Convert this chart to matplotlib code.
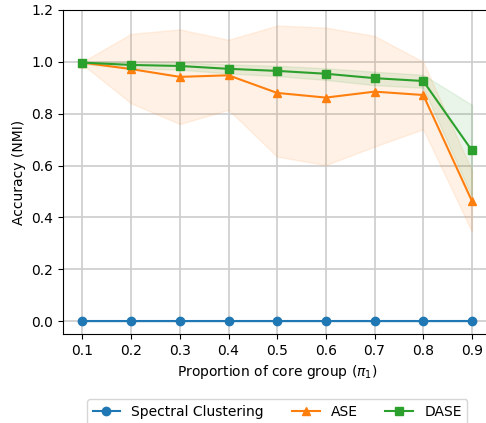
"""Plot clustering accuracy against the proportion of the core group."""

import matplotlib
matplotlib.use("Agg")
import matplotlib.pyplot as plt
import numpy as np

proportions = [0.1, 0.2, 0.3, 0.4, 0.5, 0.6, 0.7, 0.8, 0.9]

spectral_mean = [0.0, 0.0, 0.0, 0.0, 0.0, 0.0, 0.0, 0.0, 0.0]
spectral_lo = [-0.003, -0.003, -0.003, -0.003, -0.003, -0.003, -0.003, -0.003, -0.003]
spectral_hi = [0.003, 0.003, 0.003, 0.003, 0.003, 0.003, 0.003, 0.003, 0.004]

ase_mean = [0.997, 0.972, 0.942, 0.948, 0.880, 0.862, 0.885, 0.872, 0.463]
ase_lo = [0.990, 0.840, 0.760, 0.815, 0.634, 0.602, 0.673, 0.740, 0.345]
ase_hi = [1.000, 1.108, 1.125, 1.085, 1.140, 1.132, 1.100, 1.000, 0.580]

dase_mean = [0.997, 0.988, 0.984, 0.973, 0.965, 0.954, 0.937, 0.926, 0.658]
dase_lo = [0.992, 0.975, 0.970, 0.955, 0.945, 0.930, 0.910, 0.900, 0.480]
dase_hi = [1.000, 1.000, 0.998, 0.990, 0.985, 0.975, 0.962, 0.950, 0.834]


def main():
    fig = plt.figure(figsize=(4.86, 4.23), dpi=100)
    ax = fig.add_axes([0.1296, 0.2104, 0.8815, 0.766])

    series = [
        ("Spectral Clustering", "o", "C0", spectral_mean, spectral_lo, spectral_hi),
        ("ASE", "^", "C1", ase_mean, ase_lo, ase_hi),
        ("DASE", "s", "C2", dase_mean, dase_lo, dase_hi),
    ]
    for label, marker, color, mean, lo, hi in series:
        ax.plot(proportions, mean, marker=marker, color=color, label=label)
        ax.fill_between(proportions, lo, hi, color=color, alpha=0.1)

    ax.set_xticks(proportions)
    ax.set_xlim(0.06, 0.94)
    ax.set_ylim(-0.05, 1.2)
    ax.set_yticks(np.arange(0, 1.21, 0.2))
    ax.grid(True, color="#cccccc", linewidth=1.2)
    ax.set_axisbelow(True)
    ax.set_xlabel(r"Proportion of core group ($\pi_1$)")
    ax.set_ylabel("Accuracy (NMI)")
    ax.legend(loc="upper center", bbox_to_anchor=(0.5, -0.18), ncol=3)

    fig.savefig("out.png", dpi=100)


if __name__ == "__main__":
    main()
